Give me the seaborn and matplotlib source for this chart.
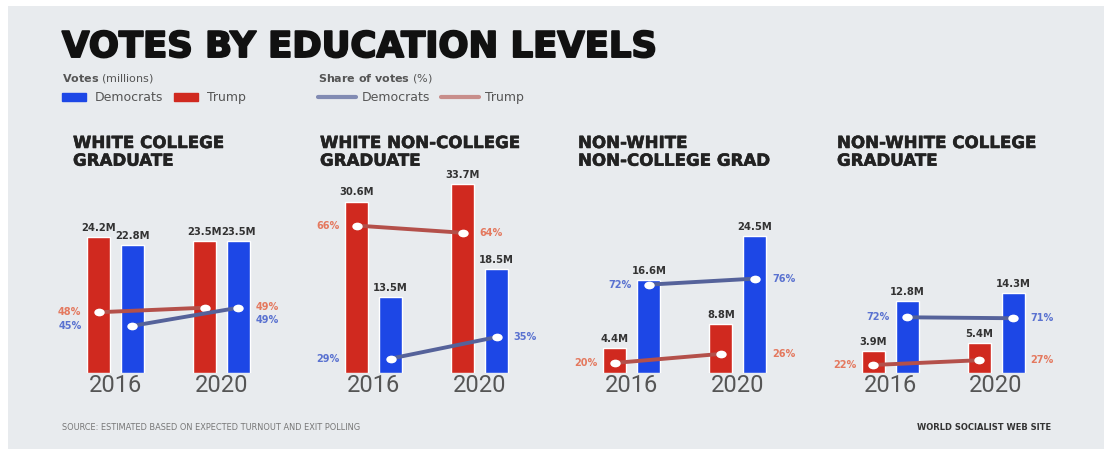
import numpy as np
import pandas as pd
import matplotlib
matplotlib.use("Agg")
import matplotlib.pyplot as plt
import matplotlib.patheffects as pe
import seaborn as sns
from matplotlib.patches import Rectangle, Patch
from matplotlib.lines import Line2D
from matplotlib.path import Path

# ---------------- data ----------------
panel_titles = ["WHITE COLLEGE\nGRADUATE", "WHITE NON-COLLEGE\nGRADUATE",
                "NON-WHITE\nNON-COLLEGE GRAD", "NON-WHITE COLLEGE\nGRADUATE"]
years = ["2016", "2020"]
parties = ["Trump", "Democrats"]
trump_votes = [[24.2, 23.5], [30.6, 33.7], [4.4, 8.8], [3.9, 5.4]]      # millions
dem_votes = [[22.8, 23.5], [13.5, 18.5], [16.6, 24.5], [12.8, 14.3]]    # millions
trump_share = [[48, 49], [66, 64], [20, 26], [22, 27]]                  # percent
dem_share = [[45, 49], [29, 35], [72, 76], [72, 71]]                    # percent

# ---------------- style / layout ----------------
W, H = 1104, 449
BG = "#e8ebee"
RED, BLUE = "#d0291f", "#1d47e6"
RED_LINE, BLUE_LINE = "#b4504a", "#55629a"
RED_TXT, BLUE_TXT = "#e4795f", "#5a72d0"
# per-panel range of the (hidden) share axis, so the dots sit as in the original
share_limits = [(34.6, 84.0), (25.0, 87.3), (13.3, 162.1), (13.6, 248.4)]
title_x_px = [73, 320, 578, 837]

sns.set_theme(style="white")
plt.rcParams["font.family"] = ["DejaVu Sans"]

fig = plt.figure(figsize=(W / 100, H / 100), dpi=100)
fig.patch.set_facecolor("white")
fig.add_artist(Rectangle((8 / W, 0), 1 - 8 / W, 1 - 6 / H, transform=fig.transFigure,
                         facecolor=BG, edgecolor="none", zorder=-10))

ellipse = Path(Path.unit_circle().vertices * np.array([1.35, 1.0]), Path.unit_circle().codes)

YMAX = 40
for i in range(4):
    left_px = 62.5 + 258.2 * i
    ax = fig.add_axes([left_px / W, (H - 373) / H, 212 / W, 224 / H])
    ax.set_facecolor("none")
    df = pd.DataFrame({
        "year": years * 2,
        "party": ["Trump"] * 2 + ["Democrats"] * 2,
        "votes": trump_votes[i] + dem_votes[i],
    })
    sns.barplot(data=df, x="year", y="votes", hue="party", order=years, hue_order=parties,
                palette={"Trump": RED, "Democrats": BLUE}, width=0.64, gap=0.32,
                saturation=1, legend=False, ax=ax, zorder=1)
    ax.set_xlim(-0.5, 1.5)
    ax.set_ylim(0, YMAX)
    sns.despine(ax=ax, left=True, bottom=True)
    ax.set_yticks([])
    ax.set_xlabel("")
    ax.set_ylabel("")
    ax.tick_params(axis="x", length=0, pad=1, labelsize=17, labelcolor="#555555")
    for lbl in ax.get_xticklabels():
        lbl.set_fontfamily("Roboto")

    for cont in ax.containers:
        ax.bar_label(cont, fmt="{:.1f}M", padding=3, fontsize=7.2, fontweight="bold",
                     color="#333333")

    t_bars, d_bars = ax.containers[0], ax.containers[1]
    centers = {p: [b.get_x() + b.get_width() / 2 for b in c]
               for p, c in zip(parties, [t_bars, d_bars])}
    heights = {"Trump": trump_votes[i], "Democrats": dem_votes[i]}
    lefts = {p: [b.get_x() for b in c] for p, c in zip(parties, [t_bars, d_bars])}
    rights = {p: [b.get_x() + b.get_width() for b in c] for p, c in zip(parties, [t_bars, d_bars])}

    ax2 = ax.twinx()
    lo, hi = share_limits[i]
    ax2.set_ylim(lo, hi)
    ax2.axis("off")
    shares = {"Trump": trump_share[i], "Democrats": dem_share[i]}
    for p, col in [("Trump", RED_LINE), ("Democrats", BLUE_LINE)]:
        sns.lineplot(x=centers[p], y=shares[p], ax=ax2, color=col, lw=2.8,
                     marker=ellipse, markersize=7.5, markerfacecolor="white",
                     markeredgecolor="none", legend=False, zorder=3)

    def to_bar_units(v):
        return (v - lo) / (hi - lo) * YMAX

    # percent labels
    for j in range(2):
        placed = []
        for p, col in [("Trump", RED_TXT), ("Democrats", BLUE_TXT)]:
            v = shares[p][j]
            yb = to_bar_units(v)
            if j == 0:
                blocked = (p == "Democrats") and heights["Trump"][0] > yb - 0.8
                x = lefts["Trump"][0] if blocked else lefts[p][0]
                dx, ha = -4, "right"
            else:
                blocked = (p == "Trump") and heights["Democrats"][1] > yb - 0.8
                x = rights["Democrats"][1] if blocked else rights[p][1]
                dx, ha = 4, "left"
            placed.append((p, v, x, dx, ha, col, yb))
        # avoid overlap when both labels sit on the same side at similar heights
        (p1, v1, x1, dx1, ha1, c1, y1), (p2, v2, x2, dx2, ha2, c2, y2) = placed
        px_per_unit = 224 / YMAX
        gap = abs(y1 - y2) * px_per_unit
        dy = {p1: 0, p2: 0}
        if abs(x1 - x2) < 1e-6 and gap < 12:
            dy[p1] = 1
            dy[p2] = -(12 - gap)
        for p, v, x, dx, ha, col, yb in placed:
            ax2.annotate(f"{v}%", xy=(x, v), xytext=(dx, dy[p] * 0.72), textcoords="offset points",
                         ha=ha, va="center", fontsize=7, fontweight="bold", color=col)

    fig.text(title_x_px[i] / W, 1 - 134 / H, panel_titles[i], ha="left", va="top",
             fontsize=12, fontweight="bold", color="#222222", linespacing=0.98,
             path_effects=[pe.withStroke(linewidth=0.4, foreground="#222222")])

# main title
fig.text(62 / W, 1 - 30 / H, "VOTES BY EDUCATION LEVELS", ha="left", va="top",
         fontsize=25.5, fontweight="bold", color="#111111",
         path_effects=[pe.withStroke(linewidth=1.4, foreground="#111111")])

# legends
leg1 = fig.legend(handles=[Patch(color=BLUE, label="Democrats"), Patch(color=RED, label="Trump")],
                  loc="upper left", bbox_to_anchor=(62 / W, 1 - 72 / H), ncol=2, frameon=False,
                  title=r"$\bf{Votes}$ (millions)", alignment="left", fontsize=9,
                  title_fontsize=8, handlelength=1.9, handleheight=0.55, handletextpad=0.7,
                  columnspacing=0.9, borderpad=0, borderaxespad=0, labelcolor="#555555")
leg1.get_title().set_color("#555555")
leg2 = fig.legend(handles=[Line2D([], [], color=BLUE_LINE, lw=3, alpha=0.7, label="Democrats"),
                           Line2D([], [], color=RED_LINE, lw=3, alpha=0.6, label="Trump")],
                  loc="upper left", bbox_to_anchor=(318 / W, 1 - 72 / H), ncol=2, frameon=False,
                  title=r"$\bf{Share\ of\ votes}$ (%)", alignment="left", fontsize=9,
                  title_fontsize=8, handlelength=3.0, handletextpad=0.5,
                  columnspacing=0.9, borderpad=0, borderaxespad=0, labelcolor="#555555")
leg2.get_title().set_color("#555555")

# footer
fig.text(62 / W, 1 - 427 / H, "SOURCE: ESTIMATED BASED ON EXPECTED TURNOUT AND EXIT POLLING",
         ha="left", va="center", fontsize=6.6, color="#777777", stretch="condensed")
fig.text(917 / W, 1 - 427 / H, "WORLD SOCIALIST WEB SITE", ha="left", va="center",
         fontsize=6.0, fontweight="bold", color="#333333")

fig.savefig("out.png", dpi=100, facecolor=fig.get_facecolor())
